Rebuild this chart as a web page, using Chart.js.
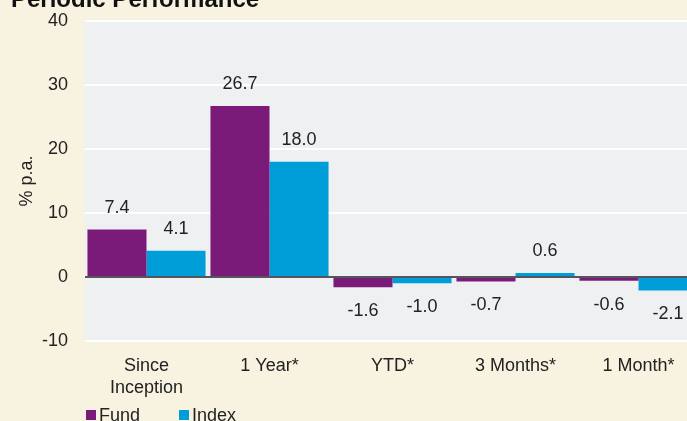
<!DOCTYPE html>
<html>
<head>
<meta charset="utf-8">
<script src="https://cdn.jsdelivr.net/npm/chart.js@4"></script>
<style>
  html, body { margin: 0; padding: 0; background: #f8f2e1; overflow: hidden; }
  #wrap { position: relative; width: 687px; height: 421px; overflow: hidden; }
  #title { position: absolute; left: 11px; top: -15px; line-height: 24px; font: bold 24px "Liberation Sans", Arial, sans-serif; color: #111; }
  #chart { position: absolute; left: 0; top: -7px; }
</style>
</head>
<body>
<div id="wrap">
  <canvas id="chart" width="700" height="428"></canvas>
  <div id="title">Periodic Performance</div>
</div>
<script>
const categories = [["Since", "Inception"], "1 Year*", "YTD*", "3 Months*", "1 Month*"];
const fundValues = [7.4, 26.7, -1.6, -0.7, -0.6];
const indexValues = [4.1, 18.0, -1.0, 0.6, -2.1];
const yTicks = [-10, 0, 10, 20, 30, 40];

const FONT = "'Liberation Sans', Arial, sans-serif";
const PURPLE = "#7a1b7a";
const BLUE = "#009ed9";

// plot background + zero line + value labels + legend
const extras = {
  id: "extras",
  beforeDatasetsDraw(chart) {
    const a = chart.chartArea, c = chart.ctx;
    c.save();
    c.globalCompositeOperation = "destination-over";
    c.fillStyle = "#eff0f2";
    c.fillRect(a.left, a.top - 1, a.right - a.left, a.bottom - a.top + 2);
    c.restore();
  },
  afterDatasetsDraw(chart) {
    const c = chart.ctx, a = chart.chartArea;
    const y0 = chart.scales.y.getPixelForValue(0);
    c.save();
    c.strokeStyle = "#1c1c28";
    c.lineWidth = 1.5;
    c.beginPath();
    c.moveTo(a.left, y0);
    c.lineTo(a.right, y0);
    c.stroke();

    c.font = "18px " + FONT;
    c.fillStyle = "#222";
    c.textAlign = "center";
    c.textBaseline = "middle";
    chart.data.datasets.forEach((ds, i) => {
      chart.getDatasetMeta(i).data.forEach((bar, j) => {
        const v = ds.data[j];
        const y = v >= 0 ? bar.y - 22 : bar.y + 24;
        c.fillText(v.toFixed(1), bar.x, y);
      });
    });

    // legend
    const ly = 421;
    const items = [{ x: 86, ds: 0 }, { x: 179, ds: 1 }];
    c.textAlign = "left";
    items.forEach(it => {
      const ds = chart.data.datasets[it.ds];
      c.fillStyle = ds.backgroundColor;
      c.fillRect(it.x, ly - 4, 10, 10);
      c.fillStyle = "#222";
      c.fillText(ds.label, it.x + 13, ly + 2);
    });
    c.restore();
  }
};

new Chart(document.getElementById("chart"), {
  type: "bar",
  data: {
    labels: categories,
    datasets: [
      { label: "Fund", data: fundValues, backgroundColor: PURPLE },
      { label: "Index", data: indexValues, backgroundColor: BLUE }
    ]
  },
  options: {
    responsive: false,
    animation: false,
    devicePixelRatio: 1,
    categoryPercentage: 0.96,
    barPercentage: 1,
    layout: { padding: { top: 7, right: 0, bottom: 0, left: 0 } },
    plugins: {
      legend: { display: false },
      tooltip: { enabled: false }
    },
    scales: {
      x: {
        grid: { display: false, drawTicks: false },
        border: { display: false },
        ticks: {
          color: "#222",
          padding: 14,
          maxRotation: 0,
          autoSkip: false,
          font: { family: FONT, size: 18, lineHeight: 1.22 }
        },
        afterFit(scale) { scale.height = 80; }
      },
      y: {
        min: -10,
        max: 40,
        afterBuildTicks(scale) { scale.ticks = yTicks.map(v => ({ value: v })); },
        grid: { color: "#ffffff", lineWidth: 2, drawTicks: false },
        border: { display: false },
        ticks: {
          color: "#222",
          padding: 17,
          font: { family: FONT, size: 18 }
        },
        title: {
          display: true,
          text: "% p.a.",
          color: "#222",
          padding: { top: 16, bottom: 0 },
          font: { family: FONT, size: 18 }
        },
        afterFit(scale) { scale.width = 85; }
      }
    }
  },
  plugins: [extras]
});
</script>
</body>
</html>
